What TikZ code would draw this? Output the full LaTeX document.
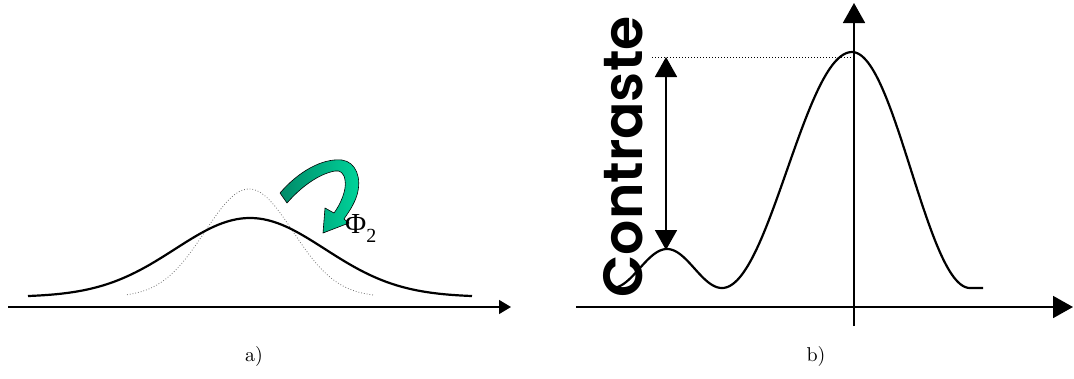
\documentclass[tikz,border=0pt]{standalone}
\usepackage{fontspec}
\usetikzlibrary{arrows.meta}
\newfontfamily\serifB{Liberation Serif}
\newfontfamily\comicf{Poppins SemiBold}
\definecolor{gdark}{RGB}{0,138,104}
\definecolor{glight}{RGB}{0,214,156}
\begin{document}
\begin{tikzpicture}[x=1pt,y=-1pt,
  axisA/.style={line width=1.3pt,-{Triangle[length=12pt,width=14pt]}},
  axisB/.style={line width=1.8pt,-{Triangle[length=20pt,width=22pt]}},
  contr/.style={line width=1.8pt,{Triangle[length=20pt,width=22pt]}-{Triangle[length=20pt,width=22pt]}},
  thickcurve/.style={line width=2.2pt,line join=round},
  thincurve/.style={line width=0.8pt,black!55,dotted},
  guide/.style={line width=1pt,dotted},
  lab/.style={inner sep=0pt,anchor=base}]
\useasboundingbox (0,0) rectangle (1074,378);
% ---------- panel a ----------
\coordinate (a0) at (8,307);
\coordinate (a1) at (511,307);
\draw[axisA] (a0) -- (a1);
\draw[thincurve] plot[domain=127:373,samples=90,smooth] (\x,{297-108*exp(-0.5*((\x-249)/44)^2)});
\draw[thickcurve] plot[domain=28:472,samples=120,smooth] (\x,{297-79*exp(-0.5*((\x-250)/75)^2)});
% green curved arrow
\draw[line width=0.6pt,left color=gdark,right color=glight,line join=round]
  (280,193) .. controls (298,172) and (322,158) .. (342,160)
  .. controls (356,162) and (362,178) .. (357,195)
  .. controls (354,205) and (348,213) .. (344,219)
  -- (349,223) -- (323,233) -- (325,208) -- (334,213)
  .. controls (340,205) and (347,190) .. (345,180)
  .. controls (344,173) and (340,170) .. (335,171)
  .. controls (318,174) and (300,188) .. (287,203) -- cycle;
\node[inner sep=0pt,anchor=base west] (phi) at (345,233)
  {\serifB\fontsize{29}{29}\selectfont Φ\raisebox{-9pt}{\fontsize{20}{20}\selectfont 2}};
\node[lab] (la) at (254,361) {\scalebox{2}{a)}};
% ---------- panel b ----------
\coordinate (b0) at (576,307);
\coordinate (b1) at (1073,307);
\coordinate (v0) at (854,326);
\coordinate (v1) at (854,3);
\draw[axisB] (b0) -- (b1);
\draw[axisB] (v0) -- (v1);
\coordinate (g0) at (652,57);
\coordinate (g1) at (852,57);
\draw[guide] (g0) -- (g1);
\draw[thickcurve]
  plot[domain=612:722,samples=50,smooth] (\x,{288-39*sin(1.63636*(\x-612))^2})
  -- plot[domain=722:852,samples=60,smooth] (\x,{288-236*sin(0.692308*(\x-722))^2})
  -- plot[domain=852:970,samples=60,smooth] (\x,{288-236*cos(0.762712*(\x-852))^2})
  -- (983,288);
\coordinate (c0) at (666,57);
\coordinate (c1) at (666,250);
\draw[contr] (c0) -- (c1);
\node[inner sep=0pt,rotate=90] (ctr) at (623,157)
  {\resizebox{281pt}{!}{\comicf Contraste}};
\node[lab] (lb) at (816,361) {\scalebox{2}{b)}};
\end{tikzpicture}
\end{document}
